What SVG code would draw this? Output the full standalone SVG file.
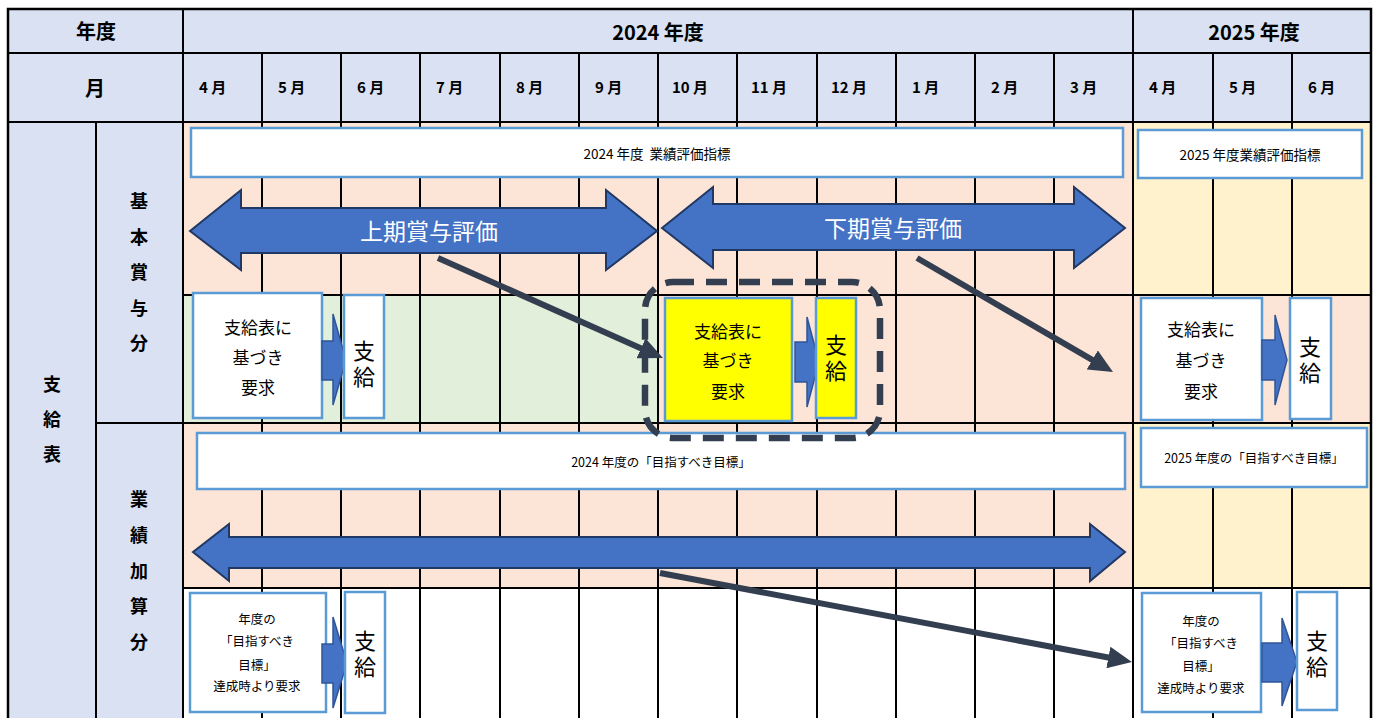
<svg xmlns="http://www.w3.org/2000/svg" width="1379" height="718" viewBox="0 0 1379 718">
<style>
text{font-family:"Noto Sans CJK JP","Noto Sans",sans-serif;fill:#000}
.h{font-weight:bold;font-size:20px;text-anchor:middle}
.m{font-weight:bold;font-size:15px}
.v{font-weight:bold;font-size:18px;text-anchor:middle}
.g{stroke:#000;stroke-width:2;fill:none}
.box{fill:#fff;stroke:#5B9BD5;stroke-width:2.5}
.ybox{fill:#FFFF00;stroke:#5B9BD5;stroke-width:2.5}
.t12{font-size:12.5px;text-anchor:middle}
.t13{font-size:13.5px;text-anchor:middle}
.t16{font-size:17px;text-anchor:middle}
.vt{font-size:22px;text-anchor:middle;writing-mode:vertical-rl;letter-spacing:4px}
.big{font-size:23px;text-anchor:middle;fill:#fff}
.dbl{fill:#4472C4;stroke:#1F3864;stroke-width:2}
.sa{fill:#4472C4;stroke:#2F5597;stroke-width:1.5}
.conn{stroke:#333F50;stroke-width:6;fill:none;marker-end:url(#ah)}
</style>
<defs>
<marker id="ah" viewBox="0 0 24 22" refX="4" refY="11" markerWidth="24" markerHeight="22" markerUnits="userSpaceOnUse" orient="auto">
<path d="M0,0 L24,11 L0,22 z" fill="#333F50"/>
</marker>
</defs>

<!-- backgrounds -->
<g id="background">
<rect x="8" y="9" width="1363" height="113" fill="#D9E1F2"/>
<rect x="8" y="122" width="175" height="596" fill="#D9E1F2"/>
<rect x="183" y="122" width="950" height="173" fill="#FCE4D6"/>
<rect x="1133" y="122" width="238" height="173" fill="#FFF2CC"/>
<rect x="183" y="295" width="475" height="128" fill="#E2EFDA"/>
<rect x="658" y="295" width="713" height="128" fill="#FCE4D6"/>
<rect x="183" y="423" width="950" height="165" fill="#FCE4D6"/>
<rect x="1133" y="423" width="238" height="165" fill="#FFF2CC"/>
<rect x="183" y="588" width="1188" height="130" fill="#fff"/>
</g>

<!-- grid -->
<g id="grid" class="g">
<rect x="8" y="9" width="1363" height="720" stroke-width="2.5"/>
<line x1="8" y1="53" x2="1371" y2="53"/>
<line x1="8" y1="122" x2="1371" y2="122"/>
<line x1="183" y1="9" x2="183" y2="718"/>
<line x1="1133" y1="9" x2="1133" y2="718"/>
<line x1="96" y1="122" x2="96" y2="718"/>
<line x1="96" y1="423" x2="1371" y2="423"/>
<line x1="183" y1="295" x2="1371" y2="295"/>
<line x1="183" y1="588" x2="1371" y2="588"/>
<path d="M262,53V718 M341,53V718 M420,53V718 M500,53V718 M579,53V718 M658,53V718 M737,53V718 M817,53V718 M896,53V718 M975,53V718 M1054,53V718 M1213,53V718 M1292,53V718"/>
</g>

<!-- header texts -->
<g id="header">
<text class="h" x="96" y="39">年度</text>
<text class="h" x="658" y="40">2024 年度</text>
<text class="h" x="1254" y="40">2025 年度</text>
<text class="h" x="95" y="96">月</text>
<text class="m" x="199" y="93">4 月</text>
<text class="m" x="278" y="93">5 月</text>
<text class="m" x="357" y="93">6 月</text>
<text class="m" x="436" y="93">7 月</text>
<text class="m" x="516" y="93">8 月</text>
<text class="m" x="595" y="93">9 月</text>
<text class="m" x="672" y="93">10 月</text>
<text class="m" x="751" y="93">11 月</text>
<text class="m" x="831" y="93">12 月</text>
<text class="m" x="912" y="93">1 月</text>
<text class="m" x="991" y="93">2 月</text>
<text class="m" x="1070" y="93">3 月</text>
<text class="m" x="1149" y="93">4 月</text>
<text class="m" x="1229" y="93">5 月</text>
<text class="m" x="1308" y="93">6 月</text>
</g>

<!-- side labels -->
<g id="label-shikyuhyo">
<text class="v" x="52" y="391">支</text>
<text class="v" x="52" y="426">給</text>
<text class="v" x="52" y="461">表</text>
</g>
<g id="label-kihon">
<text class="v" x="139" y="208">基</text>
<text class="v" x="139" y="244">本</text>
<text class="v" x="139" y="279">賞</text>
<text class="v" x="139" y="315">与</text>
<text class="v" x="139" y="350">分</text>
</g>
<g id="label-gyoseki">
<text class="v" x="139" y="506">業</text>
<text class="v" x="139" y="542">績</text>
<text class="v" x="139" y="578">加</text>
<text class="v" x="139" y="613">算</text>
<text class="v" x="139" y="649">分</text>
</g>

<!-- row A -->
<g id="idx2024">
<rect class="box" x="191" y="128" width="932" height="49"/>
<text class="t13" x="657" y="159" xml:space="preserve">2024 年度  業績評価指標</text>
</g>
<g id="idx2025">
<rect class="box" x="1138" y="130" width="224" height="48"/>
<text class="t13" x="1250" y="160">2025 年度業績評価指標</text>
</g>
<g id="kamiki">
<polygon class="dbl" points="190,231 241,190 241,208 606,208 606,190 657,231 606,270 606,253 241,253 241,270"/>
<text class="big" x="429" y="240">上期賞与評価</text>
</g>
<g id="shimoki">
<polygon class="dbl" points="662,228 713,187 713,204 1074,204 1074,187 1125,228 1074,268 1074,250 713,250 713,268"/>
<text class="big" x="893" y="237">下期賞与評価</text>
</g>

<!-- row C -->
<g id="goal2024">
<rect class="box" x="197" y="433" width="928" height="56"/>
<text class="t12" x="661" y="467">2024 年度の「目指すべき目標」</text>
</g>
<g id="goal2025">
<rect class="box" x="1141" y="428" width="226" height="59"/>
<text class="t12" x="1254" y="463">2025 年度の「目指すべき目標」</text>
</g>
<polygon id="longarrow" class="dbl" points="193,552 229,524 229,537 1090,537 1090,524 1125,552 1090,581 1090,568 229,568 229,581"/>

<!-- row B -->
<g id="req1">
<rect class="box" x="193" y="293" width="129" height="125"/>
<text class="t16" x="258" y="334">支給表に</text>
<text class="t16" x="258" y="364">基づき</text>
<text class="t16" x="258" y="394">要求</text>
</g>
<polygon id="sa1" class="sa" points="322,341 333,341 333,314 346,360 333,405 333,380 322,380"/>
<g id="pay1">
<rect class="box" x="344" y="295" width="40" height="123"/>
<text class="vt" x="364" y="366">支給</text>
</g>

<g id="req2">
<rect class="ybox" x="665" y="298" width="127" height="123"/>
<text class="t16" x="728" y="338">支給表に</text>
<text class="t16" x="728" y="367">基づき</text>
<text class="t16" x="728" y="398">要求</text>
</g>
<polygon id="sa2" class="sa" points="795,342 807,342 807,317 819,362 807,407 807,382 795,382"/>
<g id="pay2">
<rect class="ybox" x="816" y="298" width="40" height="120"/>
<text class="vt" x="836" y="360">支給</text>
</g>
<rect id="highlight" x="645" y="282" width="235" height="156" rx="28" fill="none" stroke="#333F50" stroke-width="6.5" stroke-dasharray="21 12"/>

<g id="req3">
<rect class="box" x="1141" y="298" width="121" height="122"/>
<text class="t16" x="1201" y="336">支給表に</text>
<text class="t16" x="1201" y="367">基づき</text>
<text class="t16" x="1201" y="398">要求</text>
</g>
<polygon id="sa3" class="sa" points="1262,340 1275,340 1275,315 1287,360 1275,405 1275,380 1262,380"/>
<g id="pay3">
<rect class="box" x="1290" y="298" width="41" height="121"/>
<text class="vt" x="1310" y="362">支給</text>
</g>

<!-- row D -->
<g id="ach1">
<rect class="box" x="190" y="593" width="136" height="119"/>
<text class="t12" x="257" y="624">年度の</text>
<text class="t12" x="257" y="646">「目指すべき</text>
<text class="t12" x="257" y="670">目標」</text>
<text class="t12" x="257" y="691">達成時より要求</text>
</g>
<polygon id="sa4" class="sa" points="322,644 333,644 333,617 347,663 333,708 333,683 322,683"/>
<g id="pay4">
<rect class="box" x="345" y="592" width="40" height="121"/>
<text class="vt" x="365" y="656">支給</text>
</g>
<g id="ach2">
<rect class="box" x="1142" y="593" width="119" height="119"/>
<text class="t12" x="1201" y="626">年度の</text>
<text class="t12" x="1201" y="648">「目指すべき</text>
<text class="t12" x="1201" y="671">目標」</text>
<text class="t12" x="1201" y="693">達成時より要求</text>
</g>
<polygon id="sa5" class="sa" points="1262,643 1282,643 1282,618 1297,662 1282,706 1282,682 1262,682"/>
<g id="pay5">
<rect class="box" x="1297" y="592" width="40" height="118"/>
<text class="vt" x="1317" y="656">支給</text>
</g>

<!-- connectors -->
<g id="connectors">
<line class="conn" x1="438" y1="258" x2="644.7" y2="349.9"/>
<line class="conn" x1="917" y1="258" x2="1095.7" y2="361.9"/>
<line class="conn" x1="660" y1="573" x2="1112.3" y2="658.3"/>
</g>
</svg>
